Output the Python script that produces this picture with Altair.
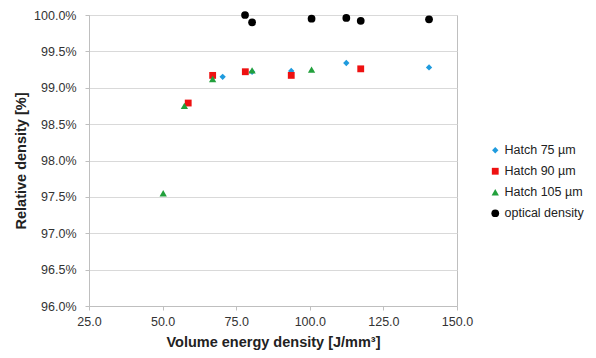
import altair as alt
import pandas as pd

series_names = ["Hatch 75 µm", "Hatch 90 µm", "Hatch 105 µm", "optical density"]

h75_x = [70.4, 80.4, 93.7, 112.4, 140.5]
h75_y = [99.15, 99.22, 99.23, 99.34, 99.28]

h90_x = [58.7, 67.0, 78.1, 93.7, 117.3]
h90_y = [98.79, 99.17, 99.22, 99.17, 99.26]

h105_x = [50.2, 57.4, 67.0, 80.4, 100.6]
h105_y = [97.55, 98.75, 99.12, 99.24, 99.25]

opt_x = [78.0, 80.4, 100.6, 112.4, 117.3, 140.5]
opt_y = [100.0, 99.90, 99.95, 99.96, 99.92, 99.94]

x_ticks = [25, 50, 75, 100, 125, 150]
y_ticks = [96.0, 96.5, 97.0, 97.5, 98.0, 98.5, 99.0, 99.5, 100.0]

colors = ["#1F9BDE", "#EE1111", "#22A03C", "#000000"]
shapes = ["diamond", "square", "triangle-up", "circle"]
sizes = [40, 60, 60, 80]

rows = []
for i, (xs, ys) in enumerate([(h75_x, h75_y), (h90_x, h90_y), (h105_x, h105_y), (opt_x, opt_y)]):
    for xv, yv in zip(xs, ys):
        rows.append({"series": series_names[i], "sz": series_names[i], "x": xv, "y": yv, "order": i})
df = pd.DataFrame(rows)

font = "Liberation Sans"

chart = alt.Chart(df).mark_point(filled=True, opacity=1, strokeWidth=0).encode(
    x=alt.X("x:Q", scale=alt.Scale(domain=[25, 150], nice=False),
            axis=alt.Axis(values=x_ticks, format=".1f", grid=False, labelFlush=False,
                          title="Volume energy density [J/mm³]")),
    y=alt.Y("y:Q", scale=alt.Scale(domain=[96, 100], nice=False, zero=False),
            axis=alt.Axis(values=y_ticks, labelFlush=False,
                          labelExpr="format(datum.value, '.1f') + '%'",
                          title="Relative density [%]")),
    color=alt.Color("series:N", scale=alt.Scale(domain=series_names, range=colors),
                    legend=alt.Legend(title=None, orient="none", legendX=400, legendY=129,
                                      symbolSize=30, rowPadding=8, labelFontSize=12.5,
                                      labelOffset=3, labelFont=font, labelColor="#222222")),
    shape=alt.Shape("series:N", scale=alt.Scale(domain=series_names, range=shapes)),
    size=alt.Size("sz:N", scale=alt.Scale(domain=series_names, range=sizes), legend=None),
    order=alt.Order("order:Q"),
).properties(
    width=368, height=291,
    autosize=alt.AutoSizeParams(type="none"),
    padding={"left": 81, "top": 7, "right": 131, "bottom": 44},
).configure_view(
    stroke="#BFBFBF", strokeWidth=1
).configure_axis(
    labelFont=font, labelFontSize=12.5, labelColor="#333333",
    titleFont=font, titleFontSize=14.5, titleFontWeight="bold", titleColor="#222222",
    domainColor="#BFBFBF", tickColor="#BFBFBF", gridColor="#D9D9D9",
    tickSize=4,
).configure_axisY(
    titlePadding=5, labelPadding=9
).configure_axisX(
    titlePadding=8, labelPadding=5
)

chart.save("out.html", embed_options={"renderer": "svg", "actions": False})
